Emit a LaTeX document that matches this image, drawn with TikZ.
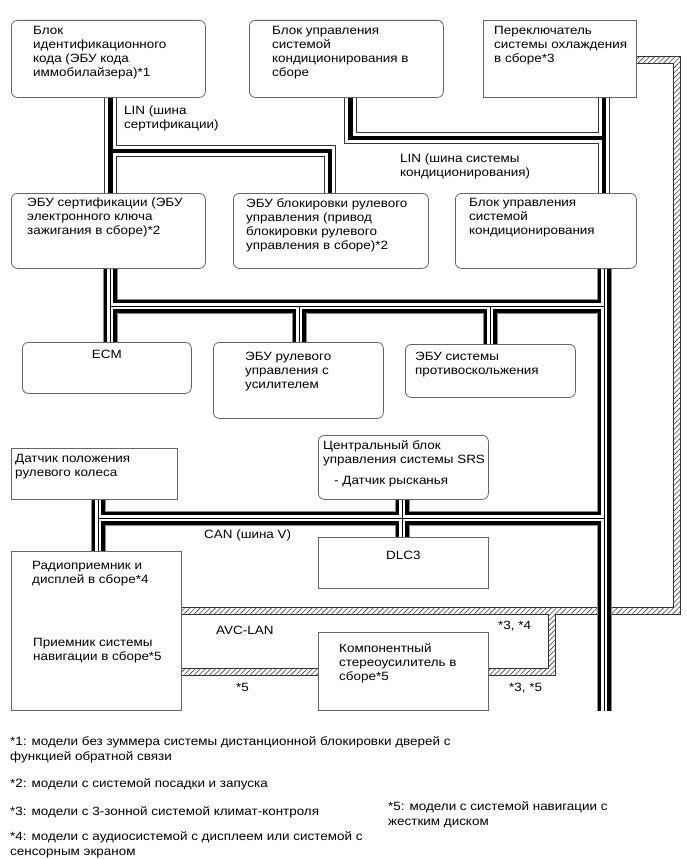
\documentclass[tikz,border=0pt]{standalone}
\usepackage{fontspec}
\setmainfont{Liberation Sans}[FakeStretch=1.12]
\usetikzlibrary{positioning,patterns.meta}
\pgfdeclarelayer{background}
\pgfsetlayers{background,main}
\tikzset{
  ecu/.style={draw=black!60, line width=0.8pt, fill=white, rounded corners=6pt, anchor=north west, inner sep=0pt},
  rectbox/.style={draw=black!60, line width=0.8pt, fill=white, anchor=north west, inner sep=0pt},
  txt/.style={anchor=north west, align=left, inner sep=0pt, font=\fontsize{12}{14}\selectfont},
  fnote/.style={txt, font=\fontsize{12}{15.5}\selectfont},
  can/.style={preaction={draw=black!45, line width=15pt}, preaction={draw=black, line width=13pt}, preaction={draw=white, line width=6.5pt}, draw=black, line width=0.9pt},
  lin/.style={preaction={draw=black!80, line width=12.5pt}, preaction={draw=white, line width=10.5pt}, draw=black, line width=4.5pt},
  avc/.style={preaction={draw=black!80, line width=8pt}, draw=white, line width=6.4pt},
  hatch/.style={pattern={Lines[angle=45, distance=3.6pt, line width=0.6pt]}, pattern color=black!75}
}
\begin{document}
\begin{tikzpicture}[x=1pt, y=-1pt]
			\useasboundingbox (0,0) rectangle (687,859);

			\node[ecu, minimum width=194pt, minimum height=77pt] (1) at (11,20) {};
			\node[ecu, minimum width=194pt, minimum height=77pt] (2) at (249,20) {};
			\node[rectbox, minimum width=153pt, minimum height=77pt] (3) at (483,20) {};
			\node[ecu, minimum width=194pt, minimum height=75pt] (4) at (11,193) {};
			\node[ecu, minimum width=195pt, minimum height=75pt] (5) at (233,193) {};
			\node[ecu, minimum width=181pt, minimum height=75pt] (6) at (455,193) {};
			\node[ecu, minimum width=169pt, minimum height=51pt] (7) at (22,342) {};
			\node[ecu, minimum width=170pt, minimum height=76pt] (8) at (213,342) {};
			\node[ecu, minimum width=170pt, minimum height=53pt] (9) at (405,344) {};
			\node[rectbox, minimum width=166pt, minimum height=51pt] (10) at (11,448) {};
			\node[ecu, minimum width=170pt, minimum height=64pt] (11) at (318,435) {};
			\node[rectbox, minimum width=170pt, minimum height=51pt] (12) at (318,537) {};
			\node[rectbox, minimum width=170pt, minimum height=159pt] (13) at (11,551) {};
			\node[rectbox, minimum width=170pt, minimum height=78pt] (14) at (318,632) {};

			\node[txt, below right=6pt and 22pt of 1.north west] (1a) {Блок\\идентификационного\\кода (ЭБУ кода\\иммобилайзера)*1};
			\node[txt, below right=6pt and 23pt of 2.north west] (2a) {Блок управления\\системой\\кондиционирования в\\сборе};
			\node[txt, below right=6pt and 11pt of 3.north west] (3a) {Переключатель\\системы охлаждения\\в сборе*3};
			\node[txt, below right=5pt and 16pt of 4.north west] (4a) {ЭБУ сертификации (ЭБУ\\электронного ключа\\зажигания в сборе)*2};
			\node[txt, below right=5pt and 13pt of 5.north west] (5a) {ЭБУ блокировки рулевого\\управления (привод\\блокировки рулевого\\управления в сборе)*2};
			\node[txt, below right=5pt and 14pt of 6.north west] (6a) {Блок управления\\системой\\кондиционирования};
			\node[txt, anchor=north, below=8pt of 7.north] (7a) {ECM};
			\node[txt, below right=10pt and 32pt of 8.north west] (8a) {ЭБУ рулевого\\управления с\\усилителем};
			\node[txt, below right=8pt and 10pt of 9.north west] (9a) {ЭБУ системы\\противоскольжения};
			\node[txt, below right=6pt and 4pt of 10.north west] (10a) {Датчик положения\\рулевого колеса};
			\node[txt, below right=5pt and 5pt of 11.north west] (11a) {Центральный блок\\управления системы SRS\\[7pt]\hspace*{11pt}- Датчик рысканья};
			\node[txt, anchor=north, below=14pt of 12.north] (12a) {DLC3};
			\node[txt, below right=10pt and 21pt of 13.north west] (13a) {Радиоприемник и\\дисплей в сборе*4};
			\node[txt, below right=87pt and 22pt of 13.north west] (13b) {Приемник системы\\навигации в сборе*5};
			\node[txt, below right=11pt and 21pt of 14.north west] (14a) {Компонентный\\стереоусилитель в\\сборе*5};

			\node[txt] (t1) at (124,106) {LIN (шина\\сертификации)};
			\node[txt] (t2) at (400,154) {LIN (шина системы\\кондиционирования)};
			\node[txt] (t3) at (204,530) {CAN (шина V)};
			\node[txt] (t4) at (216,626) {AVC-LAN};
			\node[txt] (t5) at (498,621) {*3, *4};
			\node[txt] (t6) at (236,683) {*5};
			\node[txt] (t7) at (509,683) {*3, *5};

			\coordinate (l1) at (110.5,151);
			\coordinate (l2) at (330,151);
			\coordinate (l3) at (350.5,138);
			\coordinate (l4) at (604,138);
			\coordinate (c1) at (110,306);
			\coordinate (c2) at (299,306);
			\coordinate (c3) at (490,306);
			\coordinate (c4) at (604,306);
			\coordinate (c5) at (604,711);
			\coordinate (v1) at (98,518);
			\coordinate (v2) at (402,518);
			\coordinate (v3) at (604,518);
			\coordinate (a1) at (677,60);
			\coordinate (a2) at (677,611);
			\coordinate (a3) at (552,611);
			\coordinate (a4) at (552,672);
			\coordinate (a5) at (250,672);

			\begin{pgfonlayer}{background}
			\draw[avc] (3.east |- a1) -- (a1) -- (a2) -- (13.east |- a2)
			  (a3) -- (a4) -- (14.east |- a4)
			  (13.east |- a5) -- (14.west |- a5);
			\fill[hatch] (636,57) rectangle (680,63) (674,57) rectangle (680,614)
			  (181,608) rectangle (680,614) (549,608) rectangle (555,675)
			  (488,669) rectangle (555,675) (181,669) rectangle (318,675);
			\draw[lin] (1.south -| l1) -- (4.north -| l1) (l1) -- (l2) -- (5.north -| l2);
			\draw[lin] (2.south -| l3) -- (l3) -- (l4) (3.south -| l4) -- (6.north -| l4);
			\draw[can] (4.south -| c1) -- (7.north -| c1) (c1) -- (c4)
			  (c2) -- (8.north -| c2) (c3) -- (9.north -| c3) (6.south -| c4) -- (c5)
			  (10.south -| v1) -- (13.north -| v1) (v1) -- (v3)
			  (11.south -| v2) -- (12.north -| v2);
			\end{pgfonlayer}

			\node[fnote] (f1) at (10,736) {*1: модели без зуммера системы дистанционной блокировки дверей с\\функцией обратной связи};
			\node[fnote] (f2) at (10,778) {*2: модели с системой посадки и запуска};
			\node[fnote] (f3) at (10,806) {*3: модели с 3-зонной системой климат-контроля};
			\node[fnote] (f4) at (10,831) {*4: модели с аудиосистемой с дисплеем или системой с\\сенсорным экраном};
			\node[fnote] (f5) at (388,801) {*5: модели с системой навигации с\\жестким диском};
		  \end{tikzpicture}
\end{document}
